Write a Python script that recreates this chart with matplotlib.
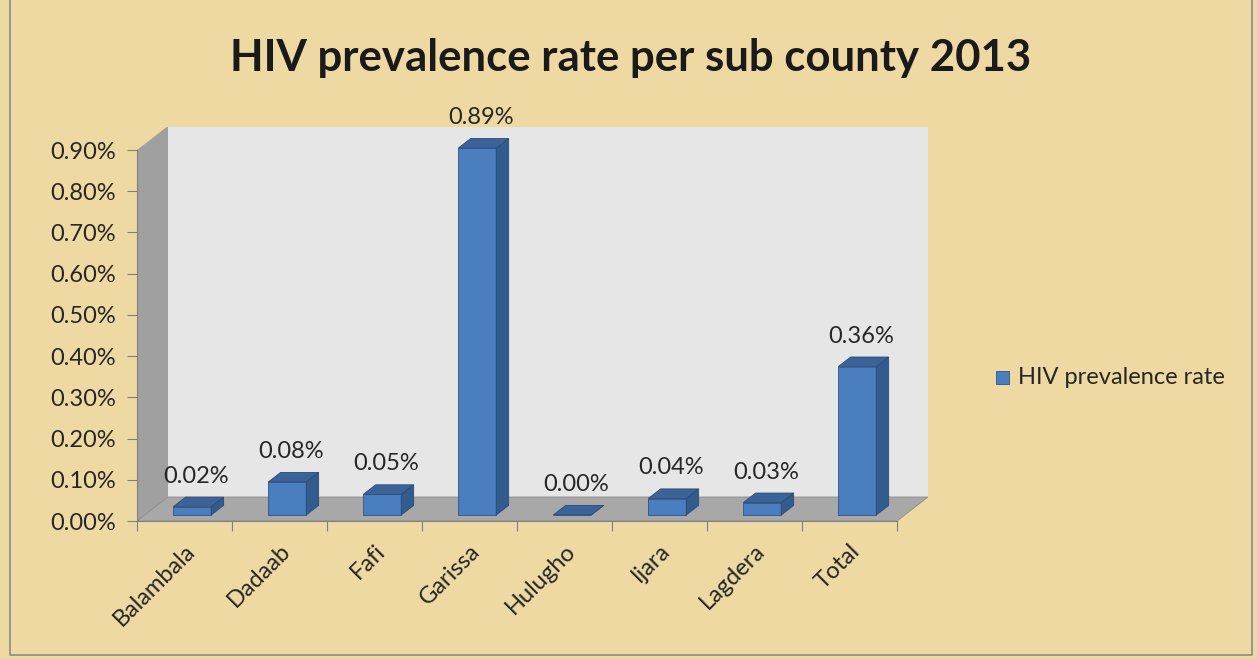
import matplotlib
matplotlib.use("Agg")
import matplotlib.pyplot as plt
from matplotlib.patches import Polygon, Rectangle

categories = ["Balambala", "Dadaab", "Fafi", "Garissa", "Hulugho", "Ijara", "Lagdera", "Total"]
values = [0.02, 0.08, 0.05, 0.89, 0.00, 0.04, 0.03, 0.36]
yticks = [0.0, 0.1, 0.2, 0.3, 0.4, 0.5, 0.6, 0.7, 0.8, 0.9]
title = "HIV prevalence rate per sub county 2013"
series_name = "HIV prevalence rate"

W, H = 1257, 659
FONT = ["Lato", "DejaVu Sans"]
plt.rcParams['font.family'] = FONT
bg = "#EFD9A2"
fig = plt.figure(figsize=(W / 100, H / 100), dpi=100, facecolor=bg)

# pixel geometry of the plot area
x0, x1 = 137, 928
y0, y1 = 521, 127
ppx = 95.0          # pixels per category
ppy = 412.2         # pixels per 1 %
DX = 31 / ppx
DY = 24 / ppy
ax = fig.add_axes([x0 / W, 1 - y0 / H, (x1 - x0) / W, (y0 - y1) / H])
ax.set_xlim(0, (x1 - x0) / ppx)
ax.set_ylim(0, (y0 - y1) / ppy)
ax.patch.set_alpha(0)
n = len(categories)
ymax = 0.9
FS = 17

# walls
ax.add_patch(Rectangle((DX, DY), n, ymax, facecolor="#E6E6E6", edgecolor="none", zorder=0))
ax.add_patch(Polygon([(0, 0), (0, ymax), (DX, ymax + DY), (DX, DY)], closed=True,
                     facecolor="#A0A0A0", edgecolor="none", zorder=1))
ax.add_patch(Polygon([(0, 0), (n, 0), (n + DX, DY), (DX, DY)], closed=True,
                     facecolor="#A8A8A8", edgecolor="#8C8C8C", linewidth=0.6, zorder=1))

# bars
front_c = "#4A7EBF"
side_c = "#335C8E"
top_c = "#3B6397"
bw = 0.4
f0 = 0.25
fd = 0.4
b = f0 * DY
ddx, ddy = fd * DX, fd * DY
xs = [i + 0.5 + f0 * DX for i in range(n)]
ax.bar(xs, values, width=bw, bottom=b, color=front_c, edgecolor="#2F5586", linewidth=0.6, zorder=3)
for xc, v in zip(xs, values):
    xl, xr = xc - bw / 2, xc + bw / 2
    ax.add_patch(Polygon([(xr, b), (xr, b + v), (xr + ddx, b + v + ddy), (xr + ddx, b + ddy)],
                         closed=True, facecolor=side_c, edgecolor="#2A4C78", linewidth=0.6, zorder=3))
    ax.add_patch(Polygon([(xl, b + v), (xr, b + v), (xr + ddx, b + v + ddy), (xl + ddx, b + v + ddy)],
                         closed=True, facecolor=top_c, edgecolor="#2A4C78", linewidth=0.6, zorder=3))
    ax.text(xc + ddx / 2 - 2 / ppx, b + v + ddy + 21 / ppy, f"{v:.2f}%", ha="center", va="center",
            fontsize=FS, color="#262626", zorder=4)

# axes styling
for s in ["top", "right"]:
    ax.spines[s].set_visible(False)
ax.spines["left"].set_bounds(0, ymax)
ax.spines["bottom"].set_bounds(0, n)
ax.spines["left"].set_color("#7F7F7F")
ax.spines["bottom"].set_color("#7F7F7F")
ax.set_yticks(yticks)
ax.set_yticklabels([f"{t:.2f}%" for t in yticks], fontsize=FS, color="#262626")
ax.set_xticks(range(n + 1))
ax.set_xticklabels([])
ax.set_xticks([i + 0.5 for i in range(n)], minor=True)
ax.set_xticklabels(categories, minor=True, rotation=45, ha="right", va="top",
                   rotation_mode="anchor", fontsize=FS, color="#262626")
ax.tick_params(axis="both", which="major", length=7, color="#7F7F7F")
ax.tick_params(axis="x", which="minor", length=0, pad=14)
ax.tick_params(axis="y", pad=8)

# title
fig.text(631 / W, 1 - 58 / H, title, ha="center", va="center", fontsize=31.5,
         fontweight="bold", color="#1A1A1A")

# legend
lax = fig.add_axes([0, 0, 1, 1])
lax.set_xlim(0, W)
lax.set_ylim(H, 0)
lax.axis("off")
lax.add_patch(Rectangle((996, 371), 13, 13, facecolor=front_c, edgecolor="#2F5586", linewidth=0.6))
lax.text(1018, 378, series_name, ha="left", va="center", fontsize=FS, color="#262626")
# frame
lax.plot([10, 10, 1252, 1252], [0, 655, 655, 0], color="#8A8A8A", linewidth=1.2)

fig.savefig("out.png", dpi=100, facecolor=bg)
